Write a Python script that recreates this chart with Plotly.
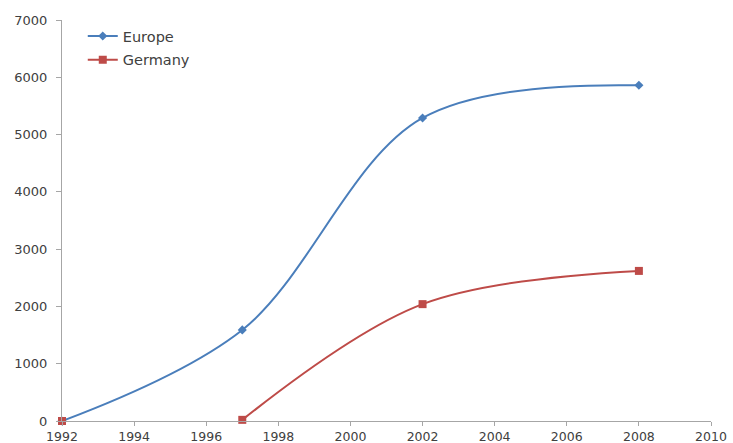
import plotly.graph_objects as go

# Series values
europe_years = [1992, 1997, 2002, 2008]
europe_values = [0, 1590, 5290, 5860]

germany_years = [1992, None, 1997, 2002, 2008]
germany_values = [0, None, 20, 2040, 2620]

x_ticks = list(range(1992, 2011, 2))
y_ticks = list(range(0, 7001, 1000))

BLUE = "#4A7EBB"
RED = "#BE4B48"
AXIS = "#A6A6A6"
TEXT = "#404040"
FONT = "DejaVu Sans, Liberation Sans, sans-serif"

fig = go.Figure()
fig.add_trace(go.Scatter(
    x=europe_years, y=europe_values, name="Europe", legendgroup="eu",
    mode="lines+markers", cliponaxis=False,
    line=dict(color=BLUE, width=2, shape="spline", smoothing=1.0),
    marker=dict(symbol="diamond", size=7, color=BLUE),
))
fig.add_trace(go.Scatter(
    x=germany_years, y=germany_values, name="Germany", legendgroup="de",
    mode="lines+markers", connectgaps=False, cliponaxis=False,
    line=dict(color=RED, width=2, shape="spline", smoothing=1.0),
    marker=dict(symbol="square", size=8, color=RED),
))

fig.update_layout(
    width=733, height=443,
    margin=dict(l=62, r=22, t=20, b=22),
    paper_bgcolor="white", plot_bgcolor="white",
    font=dict(family=FONT, size=13, color=TEXT),
    showlegend=True,
    legend=dict(x=0.032, y=1.0, xanchor="left", yanchor="top",
                bgcolor="rgba(0,0,0,0)", font=dict(family=FONT, size=14.5, color=TEXT),
                tracegroupgap=2, itemwidth=30),
)
fig.update_xaxes(
    range=[1992, 2010], tickvals=x_ticks, ticktext=[str(v) for v in x_ticks],
    automargin=False,
    showgrid=False, zeroline=False, showline=True, linecolor=AXIS, linewidth=1,
    ticks="outside", ticklen=4, tickcolor=AXIS,
    tickfont=dict(family=FONT, size=12.5, color=TEXT),
)
fig.update_yaxes(
    range=[0, 7000], tickvals=y_ticks, automargin=False,
    showgrid=False, zeroline=False, showline=True, linecolor=AXIS, linewidth=1,
    ticks="outside", ticklen=5, tickcolor=AXIS, ticklabelstandoff=6,
    tickfont=dict(family=FONT, size=13, color=TEXT),
)

fig.write_html("out.html")
